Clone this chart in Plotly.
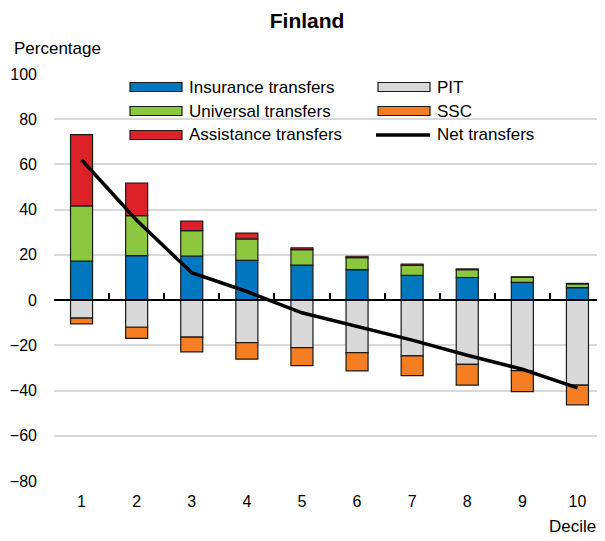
import plotly.graph_objects as go

# data
deciles = ["1", "2", "3", "4", "5", "6", "7", "8", "9", "10"]
insurance = [17.2, 19.7, 19.5, 17.6, 15.5, 13.5, 11.0, 10.0, 7.8, 5.5]
universal = [24.5, 17.7, 11.2, 9.5, 6.8, 5.3, 4.3, 3.5, 2.3, 1.7]
assistance = [31.5, 14.3, 4.2, 2.5, 0.8, 0.6, 0.6, 0.3, 0.2, 0.2]
pit = [-8.0, -12.0, -16.4, -18.8, -21.0, -23.2, -24.7, -28.4, -31.2, -37.6]
ssc = [-2.5, -4.9, -6.5, -7.3, -8.0, -8.1, -8.7, -9.2, -9.3, -8.7]
net = [62.1, 35.3, 12.1, 3.8, -5.6, -11.5, -17.7, -24.4, -30.6, -38.8]
y_ticks = [-80, -60, -40, -20, 0, 20, 40, 60, 80, 100]

COLORS = {
    "Insurance transfers": "#0077BF",
    "Universal transfers": "#8DC63F",
    "Assistance transfers": "#DD2128",
    "PIT": "#D9D9D9",
    "SSC": "#F47E21",
}
FONT = "Liberation Sans, Arial, sans-serif"

# the page body adds an 8px margin, so the figure is a bit smaller than the window
W, H = 597, 533
L, R, T, B = 46, 0, 66, 60
PW, PH = W - L - R, H - T - B
X0, Y1 = 8 + L, 8 + H - B  # plot area left / bottom in window pixels


# window pixel -> paper helpers for the hand-made legend
def px(x):
    return (x - X0) / PW


def py(y):
    return (Y1 - y) / PH


fig = go.Figure()

series = [
    ("Insurance transfers", insurance),
    ("Universal transfers", universal),
    ("Assistance transfers", assistance),
    ("PIT", pit),
    ("SSC", ssc),
]
for name, vals in series:
    fig.add_trace(go.Bar(
        x=deciles, y=vals, name=name,
        marker=dict(color=COLORS[name], line=dict(color="#1a1a1a", width=1.2)),
        width=0.4, showlegend=False,
    ))

fig.add_trace(go.Scatter(
    x=deciles, y=net, name="Net transfers", mode="lines",
    line=dict(color="black", width=3.5), showlegend=False, xaxis="x2",
))

fig.update_layout(
    width=W, height=H,
    margin=dict(l=L, r=R, t=T, b=B),
    barmode="relative",
    plot_bgcolor="white", paper_bgcolor="white",
    font=dict(family=FONT, size=16, color="black"),
    title=dict(text="<b>Finland</b>", x=0.501, xref="container", xanchor="center",
               y=1 - 12.5 / H, yref="container", yanchor="middle",
               font=dict(size=21, family=FONT, color="black")),
    xaxis=dict(type="category", categoryarray=deciles, range=[-0.5, 9.5],
               showgrid=False, showline=False, ticks="",
               ticklabelstandoff=9, tickfont=dict(size=16)),
    xaxis2=dict(type="category", categoryarray=deciles, range=[-0.5, 9.5],
                overlaying="x", anchor="free", position=80 / 180,
                showline=True, linecolor="black", linewidth=1.5,
                ticks="inside", tickson="boundaries", ticklen=6,
                tickcolor="black", tickwidth=1.5,
                showticklabels=False, showgrid=False),
    yaxis=dict(range=[-80, 100], tickvals=y_ticks, showgrid=True,
               gridcolor="#D9D9D9", gridwidth=1.5, zeroline=False,
               showline=False, ticks="", ticklabelstandoff=16,
               tickfont=dict(size=16)),
)

fig.add_annotation(text="Percentage", xref="paper", yref="paper",
                   x=px(12), y=py(48), xanchor="left", yanchor="middle",
                   showarrow=False, font=dict(size=17))
fig.add_annotation(text="Decile", xref="paper", yref="paper",
                   x=px(598), y=py(526), xanchor="right", yanchor="middle",
                   showarrow=False, font=dict(size=17))

# legend drawn by hand to get the wide swatches
legend_items = [
    ("Insurance transfers", 130, 87), ("Universal transfers", 130, 111),
    ("Assistance transfers", 130, 135), ("PIT", 378, 87), ("SSC", 378, 111),
]
for name, x0, yc in legend_items:
    fig.add_shape(type="rect", xref="paper", yref="paper",
                  x0=px(x0), x1=px(x0 + 52), y0=py(yc + 4.5), y1=py(yc - 4.5),
                  fillcolor=COLORS[name], line=dict(color="#1a1a1a", width=1.2))
    fig.add_annotation(text=name, xref="paper", yref="paper",
                       x=px(x0 + 57), y=py(yc), xanchor="left", yanchor="middle",
                       showarrow=False, font=dict(size=17))
fig.add_shape(type="line", xref="paper", yref="paper",
              x0=px(376), x1=px(430), y0=py(135), y1=py(135),
              line=dict(color="black", width=3.5))
fig.add_annotation(text="Net transfers", xref="paper", yref="paper",
                   x=px(435), y=py(135), xanchor="left", yanchor="middle",
                   showarrow=False, font=dict(size=17))

fig.write_html("out.html")
